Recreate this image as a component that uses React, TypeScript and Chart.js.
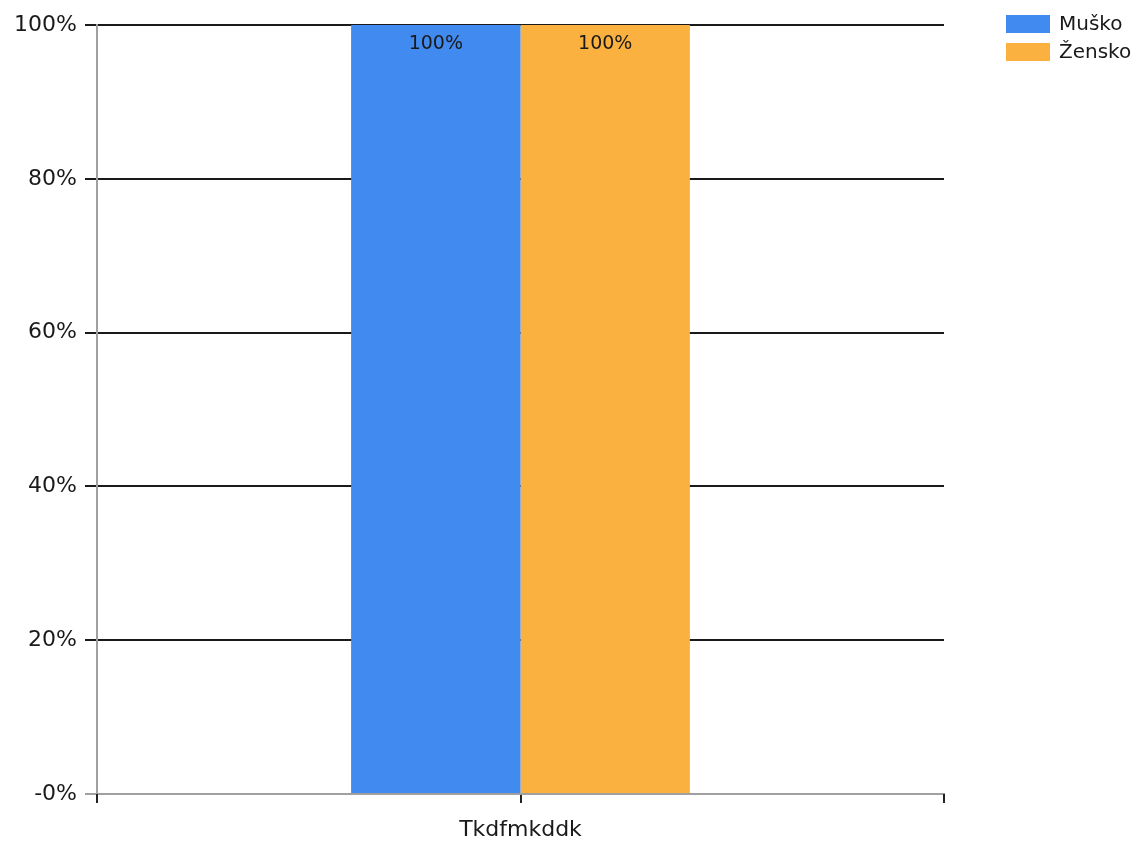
import React, { useEffect, useRef } from "react";
import { Chart, registerables } from "chart.js";

Chart.register(...registerables);

const categories = ["Tkdfmkddk"];
const seriesNames = ["Muško", "Žensko"];
const muskoValues = [1.0];
const zenskoValues = [1.0];
const seriesColors = ["#418AF0", "#FAB13F"];
const yTicks = [0, 0.2, 0.4, 0.6, 0.8, 1.0];

const FONT = "'DejaVu Sans', sans-serif";

const fmtPct = (v: number) => (v === 0 ? "-0%" : Math.round(v * 100) + "%");

const extrasPlugin = {
  id: "extras",
  afterDatasetsDraw(chart: any) {
    const ctx = chart.ctx;
    ctx.save();
    ctx.font = `19px ${FONT}`;
    ctx.fillStyle = "#1a1a1a";
    ctx.textAlign = "center";
    ctx.textBaseline = "middle";
    chart.data.datasets.forEach((ds: any, i: number) => {
      const meta = chart.getDatasetMeta(i);
      meta.data.forEach((bar: any, j: number) => {
        ctx.fillText(fmtPct(ds.data[j]), bar.x, bar.y + 19);
      });
    });
    ctx.restore();
  },
  afterDraw(chart: any) {
    const ctx = chart.ctx;
    const a = chart.chartArea;
    ctx.save();
    ctx.strokeStyle = "#222";
    ctx.lineWidth = 2;
    [a.left, a.right].forEach((x: number) => {
      ctx.beginPath();
      ctx.moveTo(Math.round(x), a.bottom);
      ctx.lineTo(Math.round(x), a.bottom + 9);
      ctx.stroke();
    });
    ctx.font = `20px ${FONT}`;
    ctx.textBaseline = "middle";
    ctx.textAlign = "left";
    seriesNames.forEach((name, i) => {
      const y = 15 + i * 28;
      ctx.fillStyle = seriesColors[i];
      ctx.fillRect(1006, y, 44, 18);
      ctx.fillStyle = "#1a1a1a";
      ctx.fillText(name, 1059, y + 10);
    });
    ctx.restore();
  },
};

export default function App() {
  const ref = useRef<HTMLCanvasElement>(null);
  useEffect(() => {
    document.body.style.margin = "0";
    const chart = new Chart(ref.current!, {
      type: "bar",
      data: {
        labels: categories,
        datasets: [
          { label: seriesNames[0], data: muskoValues, backgroundColor: seriesColors[0], categoryPercentage: 0.4, barPercentage: 1.0 },
          { label: seriesNames[1], data: zenskoValues, backgroundColor: seriesColors[1], categoryPercentage: 0.4, barPercentage: 1.0 },
        ],
      },
      options: {
        animation: false,
        responsive: false,
        maintainAspectRatio: false,
        layout: { padding: { left: 0, top: 25, right: 195, bottom: 0 } },
        plugins: { legend: { display: false }, tooltip: { enabled: false } },
        scales: {
          x: {
            grid: { offset: false, drawOnChartArea: false, tickLength: 9, color: "#222", lineWidth: 2 },
            border: { color: "#a0a0a0", width: 2 },
            ticks: { font: { family: FONT, size: 22 }, color: "#1a1a1a", padding: 14 },
            afterFit(scale: any) { scale.height = 48; },
          },
          y: {
            min: 0,
            max: 1,
            afterBuildTicks(scale: any) { scale.ticks = yTicks.map((v) => ({ value: v })); },
            grid: {
              color: (c: any) => (c.tick && c.tick.value === 0 ? "#a0a0a0" : "#1a1a1a"),
              lineWidth: 2,
              tickLength: 12,
            },
            border: { color: "#a0a0a0", width: 2 },
            ticks: { callback: (v: any) => fmtPct(Number(v)), font: { family: FONT, size: 22 }, color: "#1a1a1a", padding: 8 },
            afterFit(scale: any) { scale.width = 97; },
          },
        },
      },
      plugins: [extrasPlugin],
    });
    return () => chart.destroy();
  }, []);
  return (
    <div style={{ position: "absolute", left: 0, top: 0, width: 1139, height: 842, background: "#fff" }}>
      <canvas ref={ref} width={1139} height={842} />
    </div>
  );
}
